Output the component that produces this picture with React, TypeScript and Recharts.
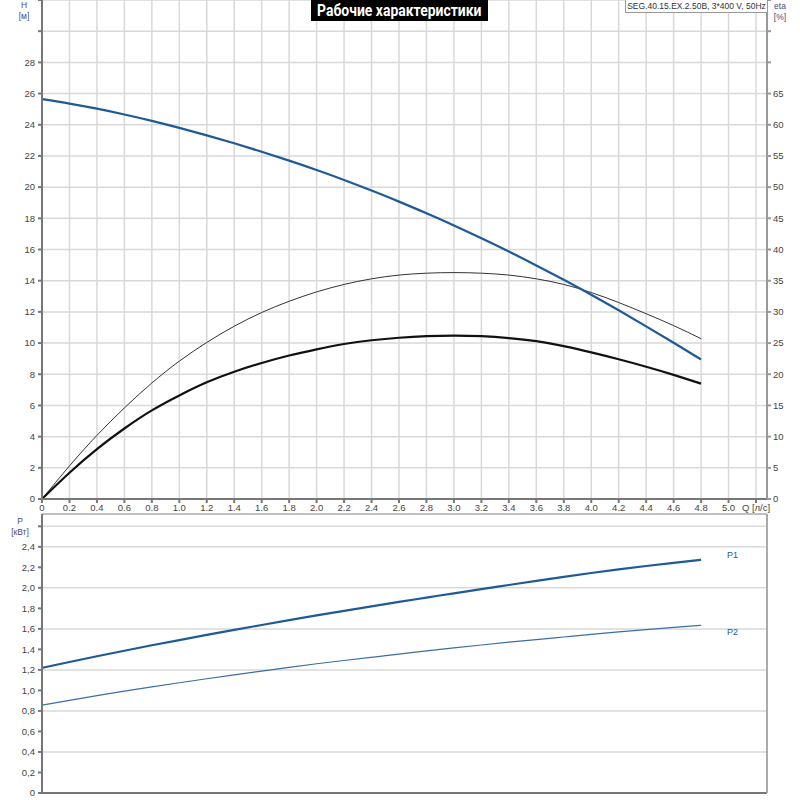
// Pump performance curves: head / efficiency on top, power below
import { LineChart, Line, XAxis, YAxis, CartesianGrid, ReferenceLine } from 'recharts';

const flow = [0, 0.2, 0.4, 0.6, 0.8, 1.0, 1.2, 1.4, 1.6, 1.8, 2.0, 2.2, 2.4, 2.6, 2.8, 3.0, 3.2, 3.4, 3.6, 3.8, 4.0, 4.2, 4.4, 4.6, 4.8];
const head = [25.65, 25.36, 25.03, 24.66, 24.25, 23.8, 23.32, 22.81, 22.27, 21.7, 21.1, 20.46, 19.78, 19.07, 18.32, 17.54, 16.72, 15.87, 14.98, 14.06, 13.1, 12.1, 11.07, 10.02, 8.95];
const etaPump = [0, 5.3, 10.2, 14.6, 18.6, 22.1, 25.1, 27.7, 29.9, 31.7, 33.2, 34.4, 35.3, 35.9, 36.2, 36.3, 36.2, 35.9, 35.3, 34.4, 33.1, 31.5, 29.7, 27.8, 25.7];
const etaTotal = [0, 4.2, 8.0, 11.3, 14.2, 16.6, 18.7, 20.4, 21.8, 23.0, 24.0, 24.85, 25.45, 25.85, 26.1, 26.2, 26.1, 25.8, 25.3, 24.5, 23.5, 22.4, 21.2, 19.9, 18.5];
const powerP1 = [1.22, 1.277, 1.333, 1.387, 1.44, 1.491, 1.541, 1.59, 1.638, 1.685, 1.731, 1.776, 1.82, 1.863, 1.905, 1.947, 1.988, 2.028, 2.068, 2.107, 2.145, 2.18, 2.213, 2.244, 2.273];
const powerP2 = [0.856, 0.903, 0.949, 0.993, 1.035, 1.075, 1.114, 1.152, 1.189, 1.225, 1.26, 1.292, 1.323, 1.354, 1.385, 1.415, 1.443, 1.47, 1.496, 1.521, 1.546, 1.57, 1.593, 1.615, 1.635];

const qTicks = [0, 0.2, 0.4, 0.6, 0.8, 1.0, 1.2, 1.4, 1.6, 1.8, 2.0, 2.2, 2.4, 2.6, 2.8, 3.0, 3.2, 3.4, 3.6, 3.8, 4.0, 4.2, 4.4, 4.6, 4.8, 5.0, 5.2];
const hTicks = [0, 2, 4, 6, 8, 10, 12, 14, 16, 18, 20, 22, 24, 26, 28, 30, 32];
const etaTicks = [0, 5, 10, 15, 20, 25, 30, 35, 40, 45, 50, 55, 60, 65, 70, 75, 80];
const pTicks = [0, 0.2, 0.4, 0.6, 0.8, 1.0, 1.2, 1.4, 1.6, 1.8, 2.0, 2.2, 2.4, 2.6];

const Q_MAX = 5.28;
const P_MAX = 2.72;

const rows = flow.map((q, i) => ({
  q,
  h: head[i],
  eta: etaPump[i],
  etaTot: etaTotal[i],
  p1: powerP1[i],
  p2: powerP2[i],
}));

const font = "'Liberation Sans', Arial, sans-serif";
const tickStyle = { fontSize: 9.5, fill: '#444', fontFamily: font };
const gridColor = '#d9d9d9';
const blue = '#1f5a96';

const fmtQ = (v: number) => (v > 5.1 ? 'Q [л/с]' : v === 0 ? '0' : v.toFixed(1));
const fmtP = (v: number) => (v > 2.5 ? '' : v === 0 ? '0' : v.toFixed(1).replace('.', ','));

// name tag placed to the right of the last point of a power curve
function seriesTag(text: string, dy: number) {
  return (props: any) => {
    if (props.index !== flow.length - 1) return null;
    return (
      <text x={props.x + 26} y={props.y + dy} fontSize={9} fill={blue} fontFamily={font}>
        {text}
      </text>
    );
  };
}

export default function App() {
  return (
    <div style={{ position: 'absolute', left: 0, top: 0, width: 800, height: 800, background: '#fff', overflow: 'hidden' }}>
      <LineChart width={800} height={520} data={rows} margin={{ top: 0, right: 0, bottom: 0, left: 0 }}>
        <CartesianGrid stroke={gridColor} strokeWidth={1.5} horizontalValues={hTicks} verticalValues={qTicks} yAxisId="h" />
        <XAxis
          dataKey="q"
          type="number"
          domain={[0, Q_MAX]}
          ticks={qTicks}
          tickFormatter={fmtQ}
          tick={tickStyle}
          tickSize={4}
          tickMargin={1}
          height={21}
          interval={0}
          stroke="#777"
          strokeWidth={2}
        />
        <YAxis
          yAxisId="h"
          domain={[0, 32]}
          ticks={hTicks}
          tickFormatter={(v: number) => (v > 28 ? '' : String(v))}
          tick={tickStyle}
          tickSize={4}
          tickMargin={3}
          width={42}
          stroke="#777"
          strokeWidth={2}
        />
        <YAxis
          yAxisId="eta"
          orientation="right"
          domain={[0, 80]}
          ticks={etaTicks}
          tickFormatter={(v: number) => (v > 65 ? '' : String(v))}
          tick={tickStyle}
          tickSize={4}
          tickMargin={2}
          width={33}
          stroke="#999"
          strokeWidth={2}
        />
        <Line yAxisId="eta" dataKey="eta" type="natural" stroke="#333" strokeWidth={1} dot={false} isAnimationActive={false} />
        <Line yAxisId="eta" dataKey="etaTot" type="natural" stroke="#111" strokeWidth={2.2} dot={false} isAnimationActive={false} />
        <Line yAxisId="h" dataKey="h" type="natural" stroke={blue} strokeWidth={2.2} dot={false} isAnimationActive={false} />
      </LineChart>

      <div style={{ position: 'absolute', left: 0, top: 513 }}>
        <LineChart width={800} height={287} data={rows} margin={{ top: 1, right: 0, bottom: 0, left: 0 }}>
          <CartesianGrid stroke={gridColor} strokeWidth={1.5} horizontalValues={pTicks} verticalValues={qTicks} />
          <XAxis
            dataKey="q"
            type="number"
            domain={[0, Q_MAX]}
            ticks={qTicks}
            tick={false}
            tickSize={4}
            height={7}
            stroke="#777"
            strokeWidth={2}
          />
          <YAxis
            domain={[0, P_MAX]}
            ticks={pTicks}
            tickFormatter={fmtP}
            tick={tickStyle}
            tickSize={4}
            tickMargin={3}
            width={42}
            stroke="#777"
            strokeWidth={2}
          />
          <YAxis yAxisId="frame" orientation="right" domain={[0, P_MAX]} tick={false} width={33} stroke="#aaa" strokeWidth={2} />
          <ReferenceLine y={P_MAX} stroke="#aaa" strokeWidth={1.5} />
          <Line dataKey="p1" type="natural" stroke={blue} strokeWidth={2.2} dot={false} label={seriesTag('P1', -2)} isAnimationActive={false} />
          <Line dataKey="p2" type="natural" stroke="#3a6ea5" strokeWidth={1.2} dot={false} label={seriesTag('P2', 10)} isAnimationActive={false} />
        </LineChart>
      </div>

      <div
        style={{
          position: 'absolute',
          left: 311,
          top: 0,
          width: 177,
          height: 21,
          background: '#000',
          display: 'flex',
          justifyContent: 'center',
          alignItems: 'center',
          overflow: 'hidden',
        }}
      >
        <span
          style={{
            flexShrink: 0,
            display: 'inline-block',
            whiteSpace: 'nowrap',
            color: '#fff',
            fontFamily: "Roboto, 'Liberation Sans', sans-serif",
            fontWeight: 'bold',
            fontSize: 17,
            lineHeight: '21px',
            transform: 'scaleX(0.82)',
            transformOrigin: 'center',
          }}
        >
          Рабочие характеристики
        </span>
      </div>
      <div
        style={{
          position: 'absolute',
          left: 625,
          top: 0,
          width: 141,
          height: 12,
          background: '#fff',
          border: '1px solid #999',
          borderTop: 'none',
          fontFamily: font,
          fontSize: 8.5,
          lineHeight: '12px',
          color: '#333',
          textAlign: 'center',
          whiteSpace: 'nowrap',
        }}
      >
        SEG.40.15.EX.2.50B, 3*400 V, 50Hz
      </div>

      <div style={{ position: 'absolute', left: 16, top: 0, width: 16, textAlign: 'center', fontFamily: font, fontSize: 8.5, color: '#4a4a7a', lineHeight: '11px' }}>
        H<br />[м]
      </div>
      <div style={{ position: 'absolute', left: 770, top: 1, width: 20, textAlign: 'center', fontFamily: font, fontSize: 8.5, color: '#4a4a7a', lineHeight: '11px' }}>
        eta<br />[%]
      </div>
      <div style={{ position: 'absolute', left: 7, top: 516, width: 26, textAlign: 'center', fontFamily: font, fontSize: 8.5, color: '#4a4a7a', lineHeight: '11px' }}>
        P<br />[кВт]
      </div>
    </div>
  );
}
